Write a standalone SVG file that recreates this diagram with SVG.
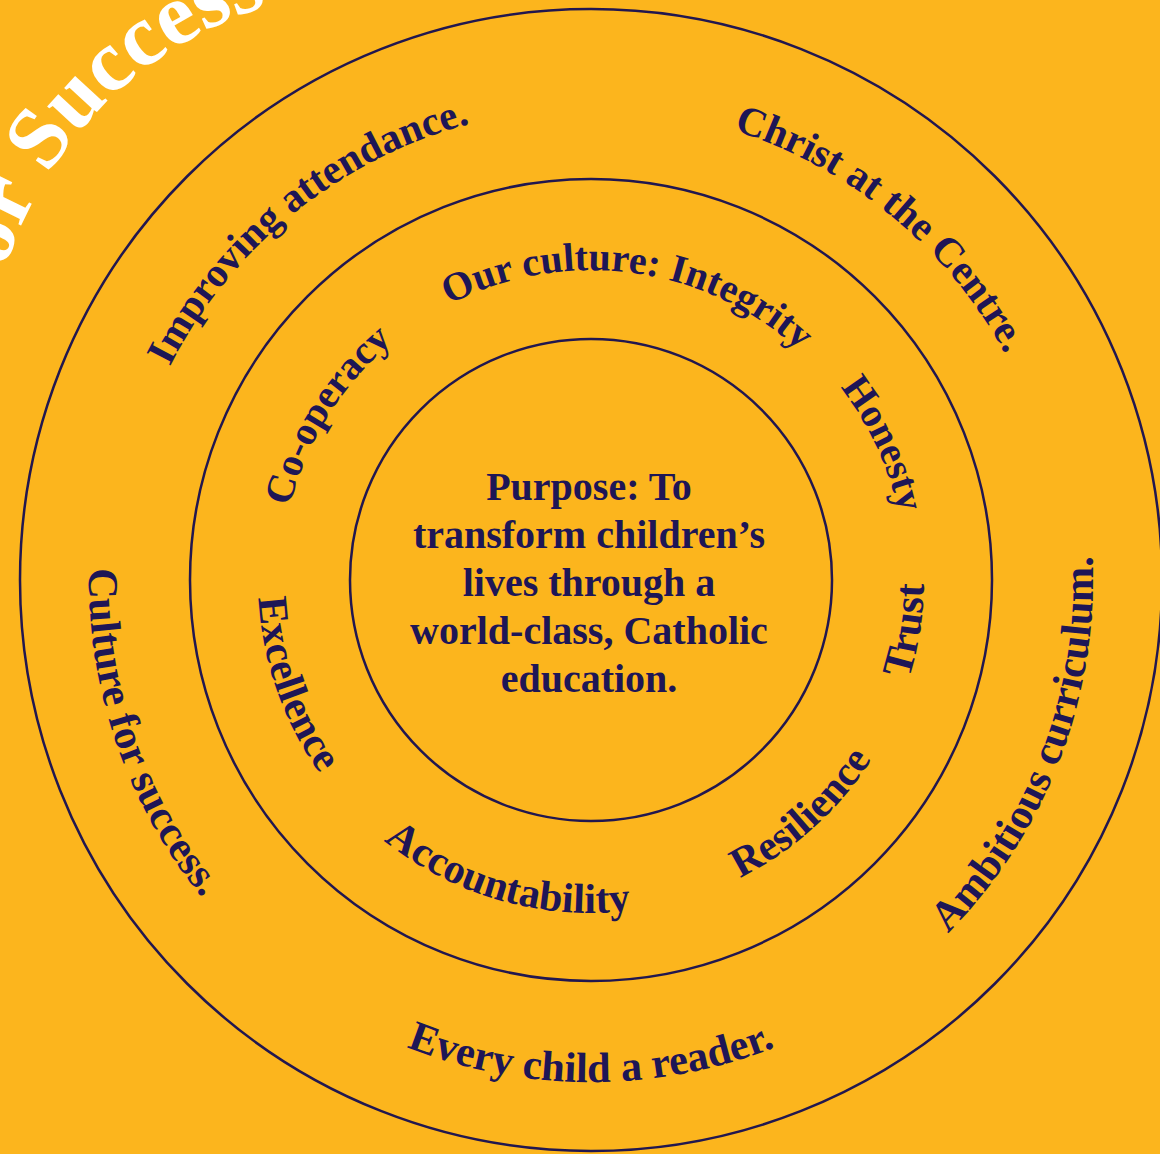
<svg xmlns="http://www.w3.org/2000/svg" xmlns:xlink="http://www.w3.org/1999/xlink" width="1160" height="1154" viewBox="0 0 1160 1154">
<style>
.bg{fill:#FCB51D}
.ring{fill:none;stroke:#22174F;stroke-width:2.5}
.lbl{font-family:"Liberation Serif","Times New Roman",serif;font-weight:bold;fill:#1E1656}
.outer{font-size:41px}
.outerb{font-size:42.5px}
.mid{font-size:40px}
.midb{font-size:42px}
.center{font-family:"Liberation Serif","Times New Roman",serif;font-weight:bold;fill:#1E1656;font-size:40px;text-anchor:middle}
.title{font-family:"Liberation Serif","Times New Roman",serif;font-weight:bold;fill:#FFFFFF;font-size:88px}
</style>
<defs>
<path id="pTitle" d="M5.2 268.9 A398 398 0 0 1 385.6 -12.1"/>
<path id="p1" d="M178.2 808.8 A472 472 0 0 1 900.7 223.8"/>
<path id="p2" d="M284.5 221.1 A472 472 0 0 1 1001.8 812.4"/>
<path id="p3" d="M495.2 1072.8 A502 502 0 0 0 849.5 149.7"/>
<path id="p4" d="M96.6 667.2 A502 502 0 0 0 1085.4 667.2"/>
<path id="p5" d="M347.6 140.9 A502 502 0 0 0 669.5 1075.8"/>
<path id="p6" d="M295.4 486.8 A310 310 0 0 1 900.7 566.5"/>
<path id="p7" d="M509.5 275.7 A315 315 0 0 1 771.7 838"/>
<path id="p8" d="M383.6 810.4 A310 310 0 0 1 707.1 292.6"/>
<path id="p9" d="M596.8 912.9 A333 333 0 0 0 699.4 265.1"/>
<path id="p10" d="M386 842.4 A333 333 0 0 0 873.4 403.5"/>
<path id="p11" d="M259.7 546.3 A333 333 0 0 0 890.8 724.9"/>
<path id="p12" d="M428 289.6 A333 333 0 0 0 644.8 908.6"/>
</defs>
<rect class="bg" x="0" y="0" width="1160" height="1154"/>
<g id="title">
<text class="title"><textPath href="#pTitle" xlink:href="#pTitle">or Success</textPath></text>
</g>
<g id="connectors">
<circle class="ring" cx="591" cy="580" r="571"/>
<circle class="ring" cx="591" cy="580" r="401"/>
<circle class="ring" cx="591" cy="580" r="241"/>
</g>
<g id="purpose">
<text class="center" x="589" y="500">Purpose: To</text>
<text class="center" x="589" y="548">transform children’s</text>
<text class="center" x="589" y="596">lives through a</text>
<text class="center" x="589" y="644">world-class, Catholic</text>
<text class="center" x="589" y="692">education.</text>
</g>
<g id="improving-attendance"><text class="lbl outer" text-anchor="middle"><textPath href="#p1" xlink:href="#p1" startOffset="50%">Improving attendance.</textPath></text></g>
<g id="christ-at-the-centre"><text class="lbl outer" text-anchor="middle"><textPath href="#p2" xlink:href="#p2" startOffset="50%">Christ at the Centre.</textPath></text></g>
<g id="ambitious-curriculum"><text class="lbl outerb" text-anchor="middle"><textPath href="#p3" xlink:href="#p3" startOffset="50%">Ambitious curriculum.</textPath></text></g>
<g id="every-child-a-reader"><text class="lbl outerb" text-anchor="middle"><textPath href="#p4" xlink:href="#p4" startOffset="50%">Every child a reader.</textPath></text></g>
<g id="culture-for-success"><text class="lbl outerb" text-anchor="middle"><textPath href="#p5" xlink:href="#p5" startOffset="50%">Culture for success.</textPath></text></g>
<g id="our-culture-integrity"><text class="lbl mid" text-anchor="middle"><textPath href="#p6" xlink:href="#p6" startOffset="50%">Our culture: Integrity</textPath></text></g>
<g id="honesty"><text class="lbl mid" text-anchor="middle"><textPath href="#p7" xlink:href="#p7" startOffset="50%">Honesty</textPath></text></g>
<g id="co-operacy"><text class="lbl mid" text-anchor="middle"><textPath href="#p8" xlink:href="#p8" startOffset="50%">Co-operacy</textPath></text></g>
<g id="trust"><text class="lbl midb" text-anchor="middle"><textPath href="#p9" xlink:href="#p9" startOffset="50%">Trust</textPath></text></g>
<g id="resilience"><text class="lbl midb" text-anchor="middle"><textPath href="#p10" xlink:href="#p10" startOffset="50%">Resilience</textPath></text></g>
<g id="accountability"><text class="lbl midb" text-anchor="middle"><textPath href="#p11" xlink:href="#p11" startOffset="50%">Accountability</textPath></text></g>
<g id="excellence"><text class="lbl midb" text-anchor="middle"><textPath href="#p12" xlink:href="#p12" startOffset="50%">Excellence</textPath></text></g>
</svg>
